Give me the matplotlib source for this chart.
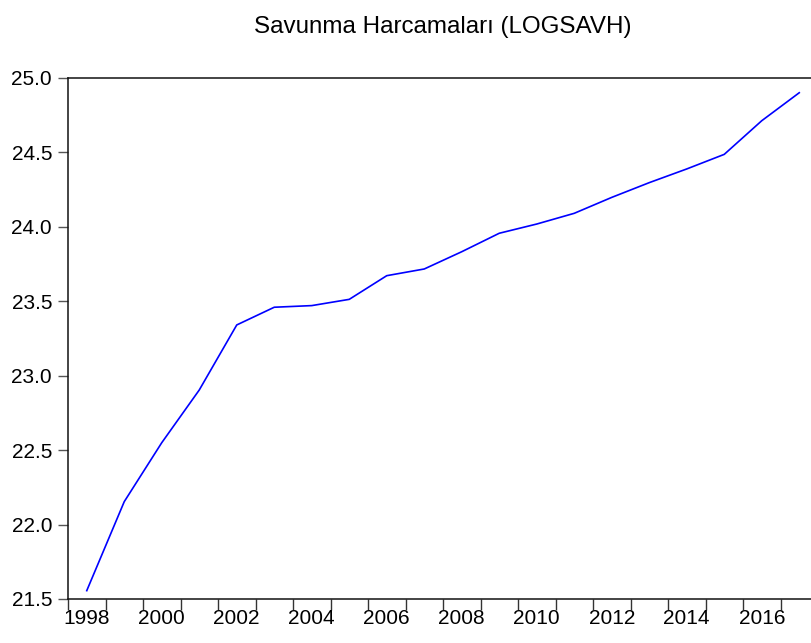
import numpy as np
import matplotlib
matplotlib.use('Agg')
import matplotlib.pyplot as plt

plt.rcParams['font.family'] = ['Liberation Sans', 'DejaVu Sans']

years = list(range(1998, 2018))
logsavh = [21.556, 22.154, 22.55, 22.904, 23.341, 23.460, 23.471, 23.513,
           23.672, 23.717, 23.833, 23.957, 24.019, 24.091, 24.198, 24.297,
           24.389, 24.487, 24.713, 24.901]
y_ticks = [21.5, 22.0, 22.5, 23.0, 23.5, 24.0, 24.5, 25.0]
label_years = list(range(1998, 2018, 2))
title = 'Savunma Harcamaları (LOGSAVH)'


def main():
    fig = plt.figure(figsize=(8.11, 6.43), dpi=100)
    # axes runs past the right edge, like the EViews export
    ax = fig.add_axes([68 / 811, 44 / 643, 750 / 811, 521 / 643])

    # annual obs sit in the middle of the year
    x = np.array(years) + 0.5
    ax.plot(x, logsavh, color='#0000ff', lw=1.2)

    ax.set_xlim(1998, 2018)
    ax.set_ylim(21.5, 25.0)

    ax.set_xticks(np.arange(1998, 2019))
    ax.set_xticklabels([])
    ax.set_xticks(np.array(label_years) + 0.5, minor=True)
    ax.set_xticklabels([str(y) for y in label_years], minor=True)
    ax.tick_params(axis='x', which='major', direction='out', length=8,
                   width=1.0, color='#333333')
    ax.tick_params(axis='x', which='minor', length=0, pad=7, labelsize=15)

    ax.set_yticks(y_ticks)
    ax.set_yticklabels(['%.1f' % v for v in y_ticks])
    ax.tick_params(axis='y', direction='out', length=7, width=1.0,
                   color='#555555', pad=4.5, labelsize=15)

    for side in ['left', 'bottom', 'top', 'right']:
        ax.spines[side].set_linewidth(1.1)
        ax.spines[side].set_color('#111111')

    fig.text(443 / 811, 1 - 33 / 643, title, ha='center', va='baseline',
             fontsize=17.4)

    fig.savefig('out.png', dpi=100)


if __name__ == '__main__':
    main()
